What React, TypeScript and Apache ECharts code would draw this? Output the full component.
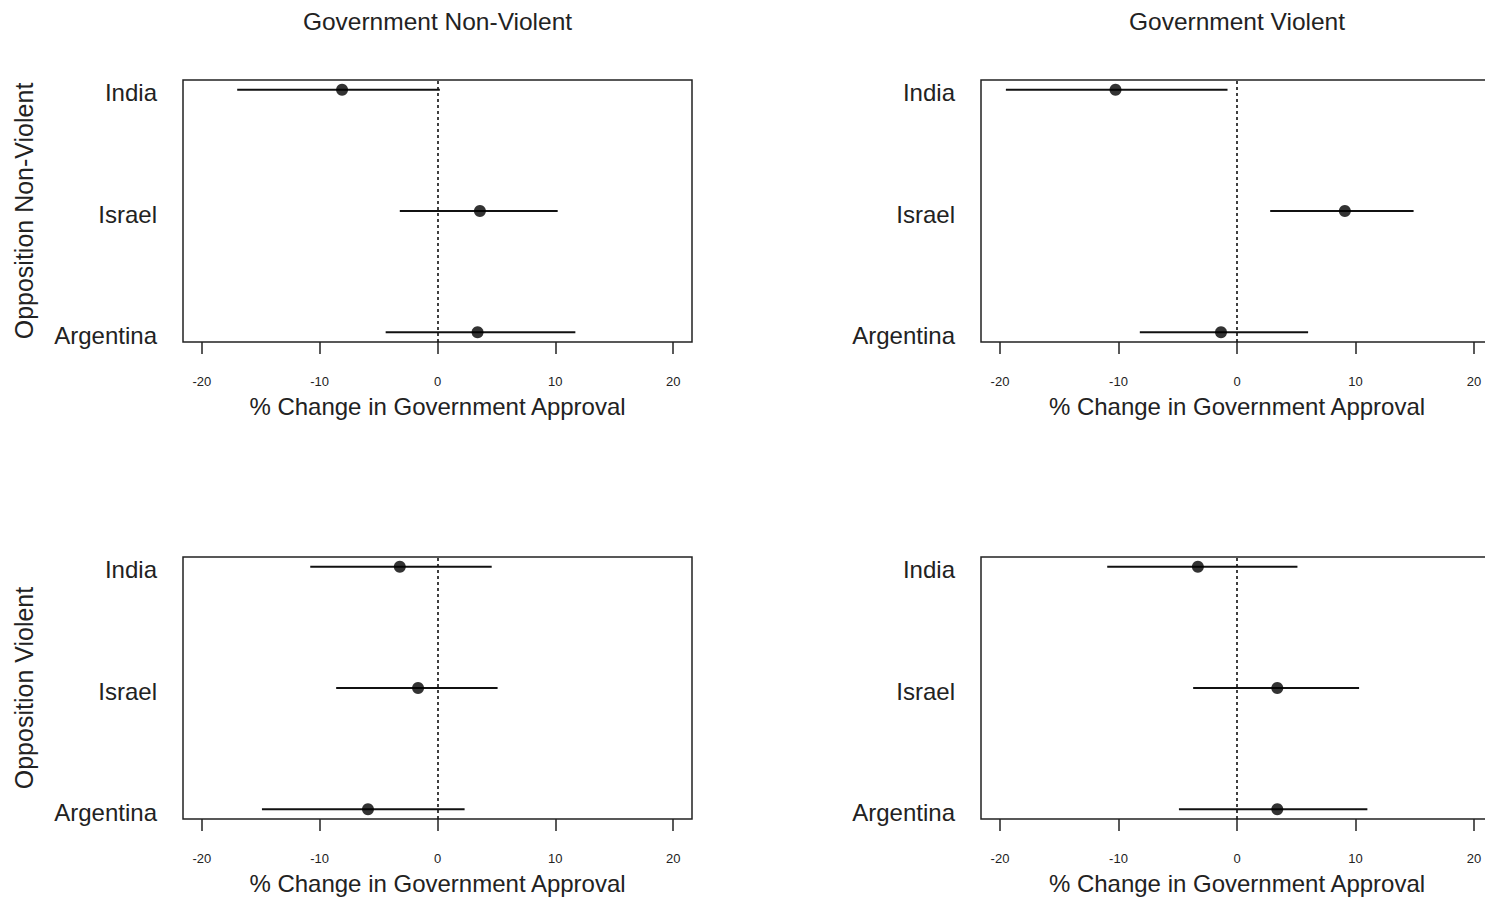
import React, { useEffect, useRef } from "react";
import * as echarts from "echarts";

// ---- data ----
const categories = ["India", "Israel", "Argentina"];
const categoryPos = [3, 2, 1];
const colTitles = ["Government Non-Violent", "Government Violent"];
const rowTitles = ["Opposition Non-Violent", "Opposition Violent"];
const xTicks = [-20, -10, 0, 10, 20];
const xAxisTitle = "% Change in Government Approval";

// panel order: [row][col]
const estNVNV = [-8.1, 3.6, 3.4];
const loNVNV = [-17.0, -3.2, -4.4];
const hiNVNV = [0.2, 10.2, 11.7];

const estNVV = [-10.25, 9.1, -1.35];
const loNVV = [-19.5, 2.8, -8.2];
const hiNVV = [-0.8, 14.9, 6.0];

const estVNV = [-3.2, -1.65, -5.9];
const loVNV = [-10.8, -8.6, -14.9];
const hiVNV = [4.6, 5.1, 2.3];

const estVV = [-3.3, 3.4, 3.4];
const loVV = [-10.95, -3.7, -4.9];
const hiVV = [5.1, 10.3, 11.0];

const panels = [
  { row: 0, col: 0, est: estNVNV, lo: loNVNV, hi: hiNVNV },
  { row: 0, col: 1, est: estNVV, lo: loNVV, hi: hiNVV },
  { row: 1, col: 0, est: estVNV, lo: loVNV, hi: hiVNV },
  { row: 1, col: 1, est: estVV, lo: loVV, hi: hiVV },
];

// ---- layout ----
const W = 1485;
const H = 899;
const CANVAS_W = 1520;
const gridLefts = [183, 981];
const gridTops = [80, 557];
const gridWs = [509, 512];
const gridH = 262;
const FONT = "'Liberation Sans', Arial, sans-serif";
const INK = "#222";

export default function App() {
  const ref = useRef<HTMLDivElement>(null);

  useEffect(() => {
    if (!ref.current) return;
    const chart = echarts.init(ref.current, undefined, { renderer: "svg" });

    const grids: any[] = [];
    const xAxes: any[] = [];
    const yAxes: any[] = [];
    const series: any[] = [];

    panels.forEach((p, i) => {
      grids.push({
        left: gridLefts[p.col],
        top: gridTops[p.row],
        width: gridWs[p.col],
        height: gridH,
        show: true,
        borderColor: INK,
        borderWidth: 1.5,
        backgroundColor: "transparent",
        containLabel: false,
      });
      xAxes.push({
        gridIndex: i,
        type: "value",
        min: -21.6,
        max: 21.6,
        name: xAxisTitle,
        nameLocation: "middle",
        nameGap: 52,
        nameTextStyle: { fontSize: 24, color: INK, fontFamily: FONT },
        axisLine: { show: false },
        splitLine: { show: false },
        axisTick: {
          show: true,
          length: 12,
          inside: false,
          customValues: xTicks,
          lineStyle: { color: INK, width: 1.5 },
        },
        axisLabel: {
          customValues: xTicks,
          margin: 33,
          fontSize: 13,
          color: INK,
          fontFamily: FONT,
        },
      });
      yAxes.push({
        gridIndex: i,
        type: "value",
        min: 0.92,
        max: 3.08,
        axisLine: { show: false },
        axisTick: { show: false },
        splitLine: { show: false },
        axisLabel: {
          customValues: categoryPos,
          formatter: (v: number) => {
            const name = categories[categoryPos.indexOf(v)] ?? "";
            return `{c|${name}}`;
          },
          margin: 26,
          rich: {
            c: {
              fontSize: 24,
              color: INK,
              fontFamily: FONT,
              padding: [6, 0, 0, 0],
            },
          },
        },
      });

      const ciData = categories.map((_, k) => [p.lo[k], p.hi[k], categoryPos[k]]);
      const ptData = categories.map((_, k) => [p.est[k], categoryPos[k]]);

      series.push({
        type: "custom",
        xAxisIndex: i,
        yAxisIndex: i,
        data: ciData,
        encode: { x: [0, 1], y: 2 },
        silent: true,
        z: 3,
        renderItem: (_params: any, api: any) => {
          const a = api.coord([api.value(0), api.value(2)]);
          const b = api.coord([api.value(1), api.value(2)]);
          return {
            type: "line",
            shape: { x1: a[0], y1: a[1], x2: b[0], y2: b[1] },
            style: { stroke: "#111", lineWidth: 2 },
          };
        },
      });
      series.push({
        type: "scatter",
        xAxisIndex: i,
        yAxisIndex: i,
        data: ptData,
        symbol: "circle",
        symbolSize: 12,
        itemStyle: { color: "#000" },
        silent: true,
        z: 4,
        markLine: {
          silent: true,
          symbol: ["none", "none"],
          label: { show: false },
          lineStyle: { type: [3, 3], color: "#111", width: 1.6 },
          data: [{ xAxis: 0 }],
          z: 2,
        },
      });
    });

    const graphics: any[] = [];
    colTitles.forEach((t, c) => {
      graphics.push({
        type: "text",
        x: gridLefts[c] + gridWs[c] / 2,
        y: 21,
        style: {
          text: t,
          align: "center",
          verticalAlign: "middle",
          font: `24.5px ${FONT}`,
          fill: INK,
        },
      });
    });
    rowTitles.forEach((t, r) => {
      graphics.push({
        type: "text",
        x: 24,
        y: gridTops[r] + gridH / 2,
        rotation: Math.PI / 2,
        style: {
          text: t,
          align: "center",
          verticalAlign: "middle",
          font: `25px ${FONT}`,
          fill: INK,
        },
      });
    });

    chart.setOption({
      animation: false,
      backgroundColor: "#fff",
      textStyle: { fontFamily: FONT },
      grid: grids,
      xAxis: xAxes,
      yAxis: yAxes,
      series,
      graphic: graphics,
    });

    return () => chart.dispose();
  }, []);

  return (
    <div
      style={{
        position: "fixed",
        left: 0,
        top: 0,
        width: W,
        height: H,
        overflow: "hidden",
        background: "#fff",
      }}
    >
      <div ref={ref} style={{ width: CANVAS_W, height: H }} />
    </div>
  );
}
